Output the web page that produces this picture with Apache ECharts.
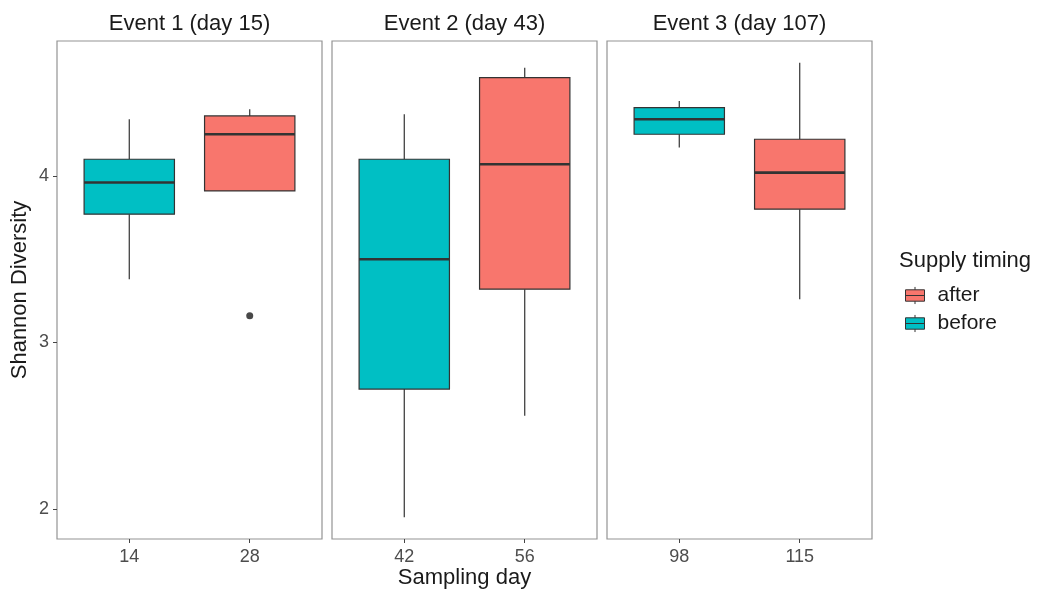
<!DOCTYPE html>
<html>
<head>
<meta charset="utf-8">
<title>Shannon Diversity by sampling day</title>
<script src="https://cdn.jsdelivr.net/npm/echarts@6/dist/echarts.min.js"></script>
<style>
  html, body { margin: 0; padding: 0; background: #fff; }
  #chart { width: 1039px; height: 590px; }
</style>
</head>
<body>
<div id="chart"></div>
<script>
// facet titles and x tick labels (before, after)
const events = ['Event 1 (day 15)', 'Event 2 (day 43)', 'Event 3 (day 107)'];
const dayLabels = [['14', '28'], ['42', '56'], ['98', '115']];
const groups = ['after', 'before'];

// box stats per facet: [min, q1, median, q3, max]
const beforeStats = [
    [3.38, 3.77, 3.96, 4.10, 4.34],
    [1.95, 2.72, 3.50, 4.10, 4.37],
    [4.17, 4.25, 4.34, 4.41, 4.45],
];
const afterStats = [
    [3.91, 3.91, 4.25, 4.36, 4.40],
    [2.56, 3.32, 4.07, 4.59, 4.65],
    [3.26, 3.80, 4.02, 4.22, 4.68],
];
// outliers of the "after" group per facet
const afterOutliers = [[3.16], [], []];

const yTicks = [2, 3, 4];
const yMin = 1.82;
const yMax = 4.81;

const colors = { after: '#F8766D', before: '#00BFC4' };
const FONT = 'Liberation Sans, Arial, sans-serif';
const BOX_WIDTH = 0.75;

const panelLeft = [57, 332, 607];
const panelWidth = 265;
const panelTop = 41;
const panelHeight = 498;

const chart = echarts.init(document.getElementById('chart'));

// draw one box with whiskers through the axis scales
function renderBox(params, api) {
    const x = api.value(0);
    const lo = api.coord([x, api.value(1)]);
    const q1 = api.coord([x, api.value(2)]);
    const md = api.coord([x, api.value(3)]);
    const q3 = api.coord([x, api.value(4)]);
    const hi = api.coord([x, api.value(5)]);
    const half = api.size([BOX_WIDTH, 0])[0] / 2;
    const line = { stroke: '#333', lineWidth: 1.2 };
    return {
        type: 'group',
        children: [
            { type: 'line', shape: { x1: lo[0], y1: lo[1], x2: q1[0], y2: q1[1] }, style: line },
            { type: 'line', shape: { x1: q3[0], y1: q3[1], x2: hi[0], y2: hi[1] }, style: line },
            {
                type: 'rect',
                shape: { x: q3[0] - half, y: q3[1], width: half * 2, height: q1[1] - q3[1] },
                style: { fill: api.visual('color'), stroke: '#333', lineWidth: 1.2 },
            },
            {
                type: 'line',
                shape: { x1: md[0] - half, y1: md[1], x2: md[0] + half, y2: md[1] },
                style: { stroke: '#333', lineWidth: 2.6 },
            },
        ],
    };
}

const grids = [];
const xAxes = [];
const yAxes = [];
const series = [];
const graphics = [];

events.forEach((name, i) => {
    grids.push({
        left: panelLeft[i],
        top: panelTop,
        width: panelWidth,
        height: panelHeight,
        outerBoundsMode: 'none',
        containLabel: false,
        show: true,
        borderColor: '#939393',
        borderWidth: 1.2,
        backgroundColor: '#fff',
    });
    xAxes.push({
        type: 'value',
        gridIndex: i,
        min: 0.4,
        max: 2.6,
        splitLine: { show: false },
        axisLine: { show: false },
        axisTick: { show: true, customValues: [1, 2], length: 4, lineStyle: { color: '#444' } },
        axisLabel: {
            customValues: [1, 2],
            formatter: (v) => dayLabels[i][Math.round(v) - 1],
            fontSize: 18,
            fontFamily: FONT,
            color: '#4d4d4d',
            margin: 9,
        },
        name: i === 1 ? 'Sampling day' : '',
        nameLocation: 'middle',
        nameGap: 28,
        nameMoveOverlap: false,
        nameTextStyle: { fontSize: 22, fontFamily: FONT, color: '#1a1a1a' },
    });
    yAxes.push({
        type: 'value',
        gridIndex: i,
        min: yMin,
        max: yMax,
        splitLine: { show: false },
        axisLine: { show: false },
        axisTick: { show: i === 0, customValues: yTicks, length: 4, lineStyle: { color: '#444' } },
        axisLabel: {
            show: i === 0,
            customValues: yTicks,
            fontSize: 18,
            fontFamily: FONT,
            color: '#4d4d4d',
            margin: 8,
        },
        name: i === 0 ? 'Shannon Diversity' : '',
        nameLocation: 'middle',
        nameGap: 26,
        nameRotate: 90,
        nameTextStyle: { fontSize: 22, fontFamily: FONT, color: '#1a1a1a' },
    });

    series.push({
        type: 'custom',
        name: 'before',
        xAxisIndex: i,
        yAxisIndex: i,
        itemStyle: { color: colors.before },
        encode: { x: 0, y: [1, 2, 3, 4, 5] },
        renderItem: renderBox,
        data: [[1].concat(beforeStats[i])],
    });
    series.push({
        type: 'custom',
        name: 'after',
        xAxisIndex: i,
        yAxisIndex: i,
        itemStyle: { color: colors.after },
        encode: { x: 0, y: [1, 2, 3, 4, 5] },
        renderItem: renderBox,
        data: [[2].concat(afterStats[i])],
    });
    if (afterOutliers[i].length) {
        series.push({
            type: 'scatter',
            xAxisIndex: i,
            yAxisIndex: i,
            symbolSize: 7,
            itemStyle: { color: '#1a1a1a' },
            data: afterOutliers[i].map((v) => [2, v]),
        });
    }

    graphics.push({
        type: 'text',
        x: panelLeft[i] + panelWidth / 2,
        y: 24,
        style: {
            text: name,
            fontSize: 22,
            fontFamily: FONT,
            fill: '#1a1a1a',
            textAlign: 'center',
            textVerticalAlign: 'middle',
        },
    });
});

graphics.push({
    type: 'text',
    x: 899,
    y: 261,
    style: {
        text: 'Supply timing',
        fontSize: 22,
        fontFamily: FONT,
        fill: '#1a1a1a',
        textVerticalAlign: 'middle',
    },
});

const legendIcon = 'path://M0,3 L20,3 L20,15 L0,15 Z M0,9 L20,9 M10,0 L10,3 M10,15 L10,18';

chart.setOption({
    backgroundColor: '#fff',
    animation: false,
    grid: grids,
    xAxis: xAxes,
    yAxis: yAxes,
    legend: {
        data: groups.map((g) => ({ name: g, icon: legendIcon })),
        orient: 'vertical',
        left: 900,
        top: 280,
        itemWidth: 19,
        itemHeight: 18,
        itemGap: 7,
        itemStyle: { borderColor: '#333', borderWidth: 1 },
        textStyle: { fontSize: 21, fontFamily: FONT, color: '#1a1a1a', padding: [0, 0, 0, 8] },
        selectedMode: false,
    },
    graphic: graphics,
    series: series,
});
</script>
</body>
</html>
